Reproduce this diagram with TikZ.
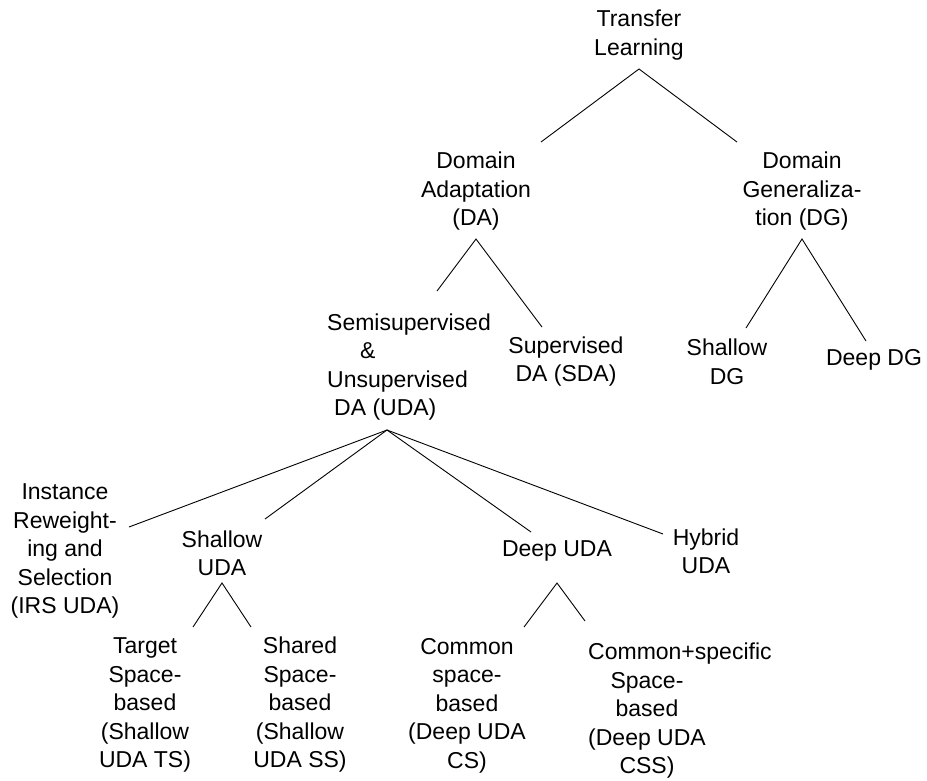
\documentclass[tikz,border=0pt]{standalone}
\usepackage{fontspec}
\setmainfont{Liberation Sans}
\begin{document}
\begin{tikzpicture}[x=1pt,y=-1pt,
  lbl/.style={inner sep=0pt, align=center, font=\fontsize{23}{28.5}\selectfont},
  edge/.style={line width=0.9pt, black}]
\useasboundingbox (0,0) rectangle (927,780);
% nodes
\node[lbl] (tl) at (639,35) {Transfer\\Learning};
\node[lbl] (da) at (476,191.5) {Domain\\Adaptation\\(DA)};
\node[lbl] (dg) at (802,191.5) {Domain\\Generaliza-\\tion (DG)};
\node[lbl, align=left, anchor=west] (uda) at (327,367) {Semisupervised\\\hspace*{33pt}\&\\Unsupervised\\\hspace*{7pt}DA (UDA)};
\node[lbl] (sda) at (566,361.5) {Supervised\\DA (SDA)};
\node[lbl] (sdg) at (727,362) {Shallow\\DG};
\node[lbl] (ddg) at (874,360) {Deep DG};
\node[lbl] (irs) at (65,551) {Instance\\Reweight-\\ing and\\Selection\\(IRS UDA)};
\node[lbl] (suda) at (222,553.5) {Shallow\\UDA};
\node[lbl] (duda) at (557,551) {Deep UDA};
\node[lbl] (huda) at (706,551.5) {Hybrid\\UDA};
\node[lbl] (ts) at (145,705) {Target\\Space-\\based\\(Shallow\\UDA TS)};
\node[lbl] (ss) at (300,705) {Shared\\Space-\\based\\(Shallow\\UDA SS)};
\node[lbl] (cs) at (467,705.5) {Common\\space-\\based\\(Deep UDA\\CS)};
\node[lbl] (css) at (647,711) {\makebox[117.6pt][l]{Common+specific}\\Space-\\based\\(Deep UDA\\CSS)};
% connector end points
\coordinate (tl-b) at (639,69);
\coordinate (da-t) at (541,142);
\coordinate (dg-t) at (737,142);
\coordinate (da-b) at (476,239);
\coordinate (uda-t) at (437,291);
\coordinate (sda-t) at (542,327);
\coordinate (dg-b) at (802,239);
\coordinate (sdg-t) at (746,328);
\coordinate (ddg-t) at (866,341);
\coordinate (uda-b) at (387,430);
\coordinate (irs-t) at (129,527);
\coordinate (suda-t) at (265,519);
\coordinate (duda-t) at (531,532);
\coordinate (huda-t) at (663,534);
\coordinate (suda-b) at (222,583);
\coordinate (ts-t) at (193,627);
\coordinate (ss-t) at (251,627);
\coordinate (duda-b) at (557,583);
\coordinate (cs-t) at (524,627);
\coordinate (css-t) at (585,621);
% connectors
\draw[edge] (da-t) -- (tl-b) -- (dg-t);
\draw[edge] (uda-t) -- (da-b) -- (sda-t);
\draw[edge] (sdg-t) -- (dg-b) -- (ddg-t);
\draw[edge] (irs-t) -- (uda-b) -- (huda-t);
\draw[edge] (suda-t) -- (uda-b) -- (duda-t);
\draw[edge] (ts-t) -- (suda-b) -- (ss-t);
\draw[edge] (cs-t) -- (duda-b) -- (css-t);
\end{tikzpicture}
\end{document}
